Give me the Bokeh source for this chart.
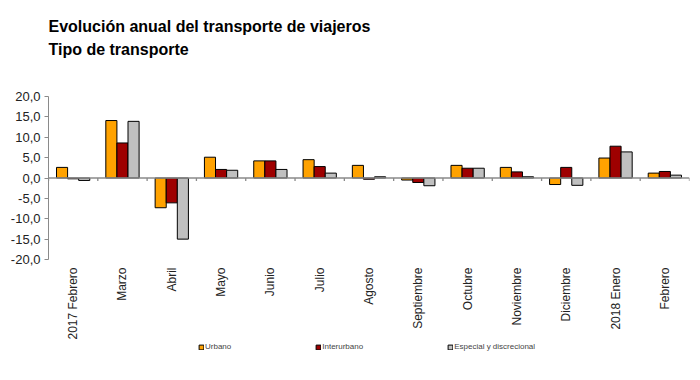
import math
from bokeh.plotting import figure
from bokeh.models import (FactorRange, Range1d, ColumnDataSource, Span, Title, Legend, LegendItem,
                          FixedTicker)
from bokeh.core.properties import value
from bokeh.transform import dodge
from bokeh.embed import file_html
from bokeh.resources import INLINE

# ---- data ----
categories = ["2017 Febrero", "Marzo", "Abril", "Mayo", "Junio", "Julio", "Agosto",
              "Septiembre", "Octubre", "Noviembre", "Diciembre", "2018 Enero", "Febrero"]
urbano = [2.6, 14.1, -7.3, 5.1, 4.2, 4.5, 3.1, -0.5, 3.1, 2.6, -1.6, 4.9, 1.2]
interurbano = [-0.2, 8.6, -6.1, 2.1, 4.2, 2.8, -0.3, -1.1, 2.4, 1.5, 2.6, 7.8, 1.6]
especial = [-0.6, 13.9, -15.0, 1.9, 2.1, 1.2, 0.3, -1.9, 2.4, 0.3, -1.8, 6.4, 0.7]
series_names = ["Urbano", "Interurbano", "Especial y discrecional"]
y_ticks = [-20, -15, -10, -5, 0, 5, 10, 15, 20]
title_1 = "Evolución anual del transporte de viajeros"
title_2 = "Tipo de transporte"

FONT = "Liberation Sans"
colors = ["#FFA200", "#9E0000", "#C0C0C0"]

# layout: value axis 20..-20 occupies 163 px; frame extends below it for labels & legend
PX_AXIS = 163.0
FRAME_H = 277
px_per_unit = PX_AXIS / (y_ticks[-1] - y_ticks[0])
y_end = y_ticks[-1]
y_start = y_end - FRAME_H / px_per_unit
label_y = y_ticks[0] - 8 / px_per_unit
tick_len = 3 / px_per_unit

n = len(categories)
src = ColumnDataSource(dict(cat=categories, u=urbano, i=interurbano, e=especial,
                            zero=[0] * n, tk=[-tick_len] * n, ly=[label_y] * n))

p = figure(x_range=FactorRange(*categories, range_padding=0), y_range=Range1d(y_start, y_end),
           width=None, height=None, frame_width=641, frame_height=FRAME_H,
           min_border_left=48, min_border_right=11, min_border_top=95, min_border_bottom=8,
           output_backend="svg", toolbar_location=None, tools="")
p.xgrid.visible = False
p.ygrid.visible = False
p.outline_line_color = None
p.background_fill_color = "white"
p.border_fill_color = "white"

bw = 0.225
r_u = p.vbar(x=dodge("cat", -bw, range=p.x_range), top="u", width=bw, source=src,
             fill_color=colors[0], line_color="black", line_width=1)
r_i = p.vbar(x=dodge("cat", 0, range=p.x_range), top="i", width=bw, source=src,
             fill_color=colors[1], line_color="black", line_width=1)
r_e = p.vbar(x=dodge("cat", bw, range=p.x_range), top="e", width=bw, source=src,
             fill_color=colors[2], line_color="black", line_width=1)

# zero line with tick marks between categories
p.add_layout(Span(location=0, dimension="width", line_color="#8a8a8a", line_width=1.3))
p.segment(x0=dodge("cat", -0.5, range=p.x_range), x1=dodge("cat", -0.5, range=p.x_range),
          y0="zero", y1="tk", source=src, line_color="#8a8a8a", line_width=1.3)
p.segment(x0=dodge("cat", 0.5, range=p.x_range), x1=dodge("cat", 0.5, range=p.x_range),
          y0="zero", y1="tk",
          source=ColumnDataSource(dict(cat=categories[-1:], zero=[0], tk=[-tick_len])),
          line_color="#8a8a8a", line_width=1.3)

# category labels (vertical, below the value area)
p.text(x="cat", y="ly", text="cat", source=src, angle=math.pi / 2,
       text_align="right", text_baseline="middle", text_font=value(FONT),
       text_font_size="12px", text_color="#222222")
p.xaxis.visible = False

# y axis
ya = p.yaxis[0]
ya.ticker = FixedTicker(ticks=y_ticks)
ya.bounds = (y_ticks[0], y_ticks[-1])
ya.major_label_overrides = {t: f"{t:.1f}".replace(".", ",") for t in y_ticks}
ya.axis_line_color = "#8a8a8a"
ya.major_tick_line_color = "#8a8a8a"
ya.major_tick_in = 0
ya.major_tick_out = 4
ya.minor_tick_line_color = None
ya.major_label_text_font = FONT
ya.major_label_text_font_size = "13px"
ya.major_label_text_color = "#222222"
ya.major_label_standoff = 4

# titles (first added sits closest to the plot)
p.add_layout(Title(text=title_2, align="left", text_font=FONT, text_font_size="16px",
                   text_font_style="bold", text_color="black", standoff=77), "above")
p.add_layout(Title(text=title_1, align="left", text_font=FONT, text_font_size="16px",
                   text_font_style="bold", text_color="black", standoff=-68), "above")

legend = Legend(items=[LegendItem(label=series_names[0], renderers=[r_u]),
                       LegendItem(label=series_names[1], renderers=[r_i]),
                       LegendItem(label=series_names[2], renderers=[r_e])],
                orientation="horizontal", location=(150, 22), spacing=84,
                glyph_width=6, glyph_height=6, label_standoff=1,
                label_text_font=FONT, label_text_font_size="8px", label_height=8,
                padding=0, margin=0, border_line_color=None, background_fill_alpha=0)
p.add_layout(legend, "center")

open("out.html", "w").write(file_html(p, INLINE))
